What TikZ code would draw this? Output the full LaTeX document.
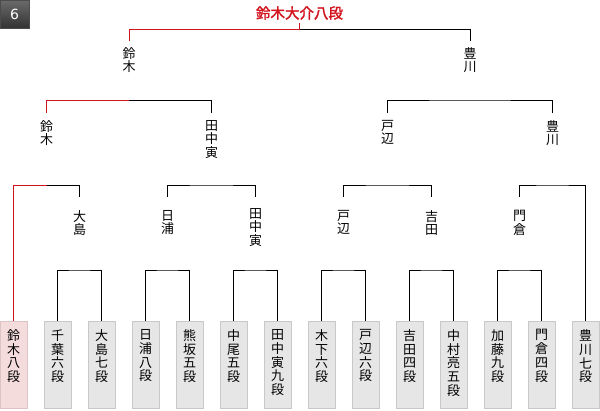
\documentclass[tikz,border=0pt]{standalone}
\usepackage{fontspec}
\newfontfamily\jp{Noto Sans CJK JP}
\newfontfamily\jpb[FakeBold=2]{Noto Sans CJK JP}
\newfontfamily\badgefont{DejaVu Sans}
\definecolor{winred}{HTML}{D2141E}
\definecolor{boxfill}{HTML}{E6E6E6}
\definecolor{boxline}{HTML}{C8C8C8}
\definecolor{winfill}{HTML}{F5DCDC}
\definecolor{winline}{HTML}{DDC4C4}
\newcommand{\bxt}[1]{\parbox[t][87pt][t]{26pt}{\centering\vspace*{8pt}#1}}
\begin{document}
\begin{tikzpicture}[x=1pt,y=-1pt,
  conn/.style={black, line width=0.9pt},
  wconn/.style={winred, line width=0.9pt},
  pbox/.style={draw=boxline, fill=boxfill, line width=0.9pt, minimum width=27pt, inner sep=0pt, anchor=north, font=\jp\fontsize{13}{13.8}\selectfont},
  wbox/.style={pbox, draw=winline, fill=winfill},
  pname/.style={font=\jp\fontsize{13}{13.6}\selectfont, align=center, inner sep=0pt, anchor=north},
  badgebox/.style={minimum width=29pt, minimum height=28pt, inner sep=0pt, top color=black!58, bottom color=black!80, draw=black!70, line width=0.5pt, text=white, font=\badgefont\fontsize{14}{14}\selectfont},
]
\useasboundingbox (0,0) rectangle (600,410);
\node[badgebox] (badge) at (14.5,14) {6};
\node[inner sep=0pt, text=winred, font=\jpb\fontsize{14.5}{14.5}\selectfont] (champ) at (299.5,13) {鈴木大介八段};

% level 1
\node[pname] (n1a) at (129,47) {鈴\\木};
\node[pname] (n1b) at (470,47) {豊\\川};
% level 2
\node[pname] (n2a) at (46.5,120) {鈴\\木};
\node[pname] (n2b) at (211.5,120) {田\\中\\寅};
\node[pname] (n2c) at (387.5,120) {戸\\辺};
\node[pname] (n2d) at (552.5,120) {豊\\川};
% level 3
\node[pname] (n3b) at (79.5,210) {大\\島};
\node[pname] (n3c) at (167.5,210) {日\\浦};
\node[pname] (n3d) at (255.5,208) {田\\中\\寅};
\node[pname] (n3e) at (343.5,210) {戸\\辺};
\node[pname] (n3f) at (431.5,210) {吉\\田};
\node[pname] (n3g) at (519.5,210) {門\\倉};

% players
\node[wbox] (b1) at (13.5,321) {\bxt{鈴\\木\\八\\段}};
\node[pbox] (b2) at (57.5,321) {\bxt{千\\葉\\六\\段}};
\node[pbox] (b3) at (101.5,321) {\bxt{大\\島\\七\\段}};
\node[pbox] (b4) at (145.5,321) {\bxt{日\\浦\\八\\段}};
\node[pbox] (b5) at (189.5,321) {\bxt{熊\\坂\\五\\段}};
\node[pbox] (b6) at (233.5,321) {\bxt{中\\尾\\五\\段}};
\node[pbox] (b7) at (277.5,321) {\bxt{田\\中\\寅\\九\\段}};
\node[pbox] (b8) at (321.5,321) {\bxt{木\\下\\六\\段}};
\node[pbox] (b9) at (365.5,321) {\bxt{戸\\辺\\六\\段}};
\node[pbox] (b10) at (409.5,321) {\bxt{吉\\田\\四\\段}};
\node[pbox] (b11) at (453.5,321) {\bxt{中\\村\\亮\\五\\段}};
\node[pbox] (b12) at (497.5,321) {\bxt{加\\藤\\九\\段}};
\node[pbox] (b13) at (541.5,321) {\bxt{門\\倉\\四\\段}};
\node[pbox] (b14) at (585.5,321) {\bxt{豊\\川\\七\\段}};

% bracket junctions
\coordinate (k1) at (79.5,270);
\coordinate (k2) at (167.5,270);
\coordinate (k3) at (255.5,270);
\coordinate (k4) at (343.5,270);
\coordinate (k5) at (431.5,270);
\coordinate (k6) at (519.5,270);
\coordinate (j1) at (46.5,185);
\coordinate (j2) at (211.5,185);
\coordinate (j3) at (387.5,185);
\coordinate (j4) at (552.5,185);
\coordinate (i1) at (129,100);
\coordinate (i2) at (470,100);
\coordinate (h) at (299.5,29);

% round 1
\draw[conn] (b2.north) |- (k1) -| (b3.north);
\draw[conn] (b4.north) |- (k2) -| (b5.north);
\draw[conn] (b6.north) |- (k3) -| (b7.north);
\draw[conn] (b8.north) |- (k4) -| (b9.north);
\draw[conn] (b10.north) |- (k5) -| (b11.north);
\draw[conn] (b12.north) |- (k6) -| (b13.north);
% round 2
\draw[wconn] (b1.north) |- (j1);
\draw[conn] (j1) -| ([yshift=13pt]n3b.north);
\draw[conn] ([yshift=13pt]n3c.north) |- (j2) -| ([yshift=11pt]n3d.north);
\draw[conn] ([yshift=13pt]n3e.north) |- (j3) -| ([yshift=13pt]n3f.north);
\draw[conn] ([yshift=13pt]n3g.north) |- (j4) -| (b14.north);
% round 3
\draw[wconn] ([yshift=7pt]n2a.north) |- (i1);
\draw[conn] (i1) -| ([yshift=7pt]n2b.north);
\draw[conn] ([yshift=7pt]n2c.north) |- (i2) -| ([yshift=7pt]n2d.north);
% final
\draw[wconn] ([yshift=6pt]n1a.north) |- (h);
\draw[conn] (h) -| ([yshift=6pt]n1b.north);
\draw[wconn] (h) -- ([yshift=-3pt]champ.south);
\end{tikzpicture}
\end{document}
